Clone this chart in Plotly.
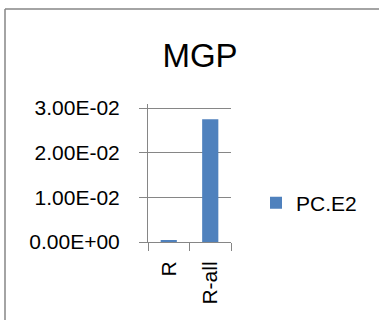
import plotly.graph_objects as go

categories = ["R", "R-all"]
series_name = "PC.E2"
values = [0.0004, 0.0275]
tick_vals = [0, 0.01, 0.02, 0.03]
tick_text = ["0.00E+00", "1.00E-02", "2.00E-02", "3.00E-02"]

W, H = 379, 320
L, R, T, B = 148, 148, 104, 78
pw = W - L - R
ph = H - T - B
# top of plot area sits 4px above the 3.00E-02 gridline so it is drawn
y_top = 0.03 * ph / (ph - 4)

def px_x(p):
    return (p - L) / pw

def px_y(p):
    return (H - B - p) / ph

FONT = "Liberation Sans, Arial, sans-serif"
GRID = "#868686"

fig = go.Figure()
fig.add_trace(go.Bar(x=categories, y=values, name=series_name,
                     marker=dict(color="#4F81BD", line=dict(width=0)),
                     showlegend=True))

fig.update_layout(
    width=W, height=H,
    margin=dict(l=L, r=R, t=T, b=B, autoexpand=False),
    paper_bgcolor="white", plot_bgcolor="white",
    font=dict(family=FONT, size=21, color="black"),
    bargap=0.61,
    title=dict(text="MGP", x=px_x(200), xref="paper", xanchor="center",
               y=1 - 55 / H, yanchor="middle",
               font=dict(family=FONT, size=33, color="black")),
    showlegend=True,
    legend=dict(x=px_x(256), xanchor="left", y=px_y(203), yanchor="middle",
                xref="paper", yref="paper",
                font=dict(family=FONT, size=21, color="black"),
                bgcolor="rgba(0,0,0,0)", itemwidth=30),
    xaxis=dict(type="category", range=[-0.5, 1.5], tickangle=-90,
               showline=True, linecolor=GRID, linewidth=1,
               ticks="outside", ticklen=8, tickcolor=GRID, tickwidth=1,
               tickson="boundaries", showgrid=False,
               ticklabelstandoff=10,
               tickfont=dict(family=FONT, size=21, color="black")),
    yaxis=dict(range=[0, y_top], tickvals=tick_vals, ticktext=tick_text,
               showline=True, linecolor=GRID, linewidth=1,
               ticks="outside", ticklen=8, tickcolor=GRID, tickwidth=1,
               showgrid=True, gridcolor=GRID, gridwidth=1, zeroline=False,
               ticklabelstandoff=15,
               tickfont=dict(family=FONT, size=21, color="black")),
    shapes=[
        dict(type="line", xref="paper", yref="paper",
             x0=px_x(5), x1=px_x(379), y0=px_y(9), y1=px_y(9),
             line=dict(color=GRID, width=1.5), layer="below"),
        dict(type="line", xref="paper", yref="paper",
             x0=px_x(5), x1=px_x(5), y0=px_y(9), y1=px_y(320),
             line=dict(color=GRID, width=1.5), layer="below"),
    ],
)

fig.write_html("out.html", config={"displayModeBar": False})
